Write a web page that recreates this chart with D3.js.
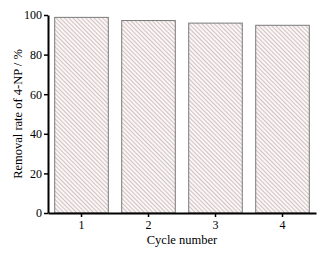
<!DOCTYPE html>
<html>
<head>
<meta charset="utf-8">
<script src="https://cdn.jsdelivr.net/npm/d3@7"></script>
<style>
  body { margin: 0; background: #fff; }
  svg { display: block; font-family: "Liberation Serif", "Times New Roman", serif; }
</style>
</head>
<body>
<svg id="chart" width="322" height="255"></svg>
<script>
const cycles = ["1", "2", "3", "4"];
const removalRate = [98.8, 97.2, 95.9, 94.8];
const yTicks = [0, 20, 40, 60, 80, 100];

const margin = { top: 15, right: 6, bottom: 42, left: 48 };
const width = 322 - margin.left - margin.right;
const height = 255 - margin.top - margin.bottom;

const svg = d3.select("#chart");

// hatch pattern for bars
const defs = svg.append("defs");
const pat = defs.append("pattern")
  .attr("id", "hatch")
  .attr("patternUnits", "userSpaceOnUse")
  .attr("width", 3)
  .attr("height", 3)
  .attr("patternTransform", "rotate(-45)");
pat.append("rect").attr("width", 3).attr("height", 3).attr("fill", "#fbf5f5");
pat.append("line")
  .attr("x1", 0).attr("y1", 0).attr("x2", 0).attr("y2", 3)
  .attr("stroke", "#ab9b9b")
  .attr("stroke-width", 1.1);

const g = svg.append("g")
  .attr("transform", "translate(" + margin.left + "," + margin.top + ")");

const x = d3.scaleBand()
  .domain(cycles)
  .range([0, width])
  .paddingInner(0.2)
  .paddingOuter(0.1);

const y = d3.scaleLinear()
  .domain([0, 100])
  .range([height, 0]);

g.selectAll(".bar")
  .data(cycles)
  .enter()
  .append("rect")
  .attr("class", "bar")
  .attr("x", d => x(d))
  .attr("y", (d, i) => y(removalRate[i]))
  .attr("width", x.bandwidth())
  .attr("height", (d, i) => y(0) - y(removalRate[i]))
  .attr("fill", "url(#hatch)")
  .attr("stroke", "#7a7a7a")
  .attr("stroke-width", 1);

const xAxis = g.append("g")
  .attr("transform", "translate(0," + height + ")")
  .call(d3.axisBottom(x).tickSize(4).tickPadding(3).tickSizeOuter(0));

const yAxis = g.append("g")
  .call(d3.axisLeft(y).tickValues(yTicks).tickSize(4).tickPadding(2).tickSizeOuter(0));

[xAxis, yAxis].forEach(a => {
  a.select(".domain").attr("stroke", "#000").attr("stroke-width", 2);
  a.selectAll(".tick line").attr("stroke", "#000").attr("stroke-width", 1.5);
  a.selectAll("text")
    .attr("fill", "#000")
    .style("font-family", "Liberation Serif")
    .style("font-size", "12px");
});

g.append("text")
  .attr("x", width / 2)
  .attr("y", height + 31)
  .attr("text-anchor", "middle")
  .style("font-size", "12.5px")
  .text("Cycle number");

g.append("text")
  .attr("transform", "translate(" + (-margin.left + 22) + "," + (height / 2) + ") rotate(-90)")
  .attr("text-anchor", "middle")
  .style("font-size", "12.5px")
  .text("Removal rate of 4-NP / %");
</script>
</body>
</html>
